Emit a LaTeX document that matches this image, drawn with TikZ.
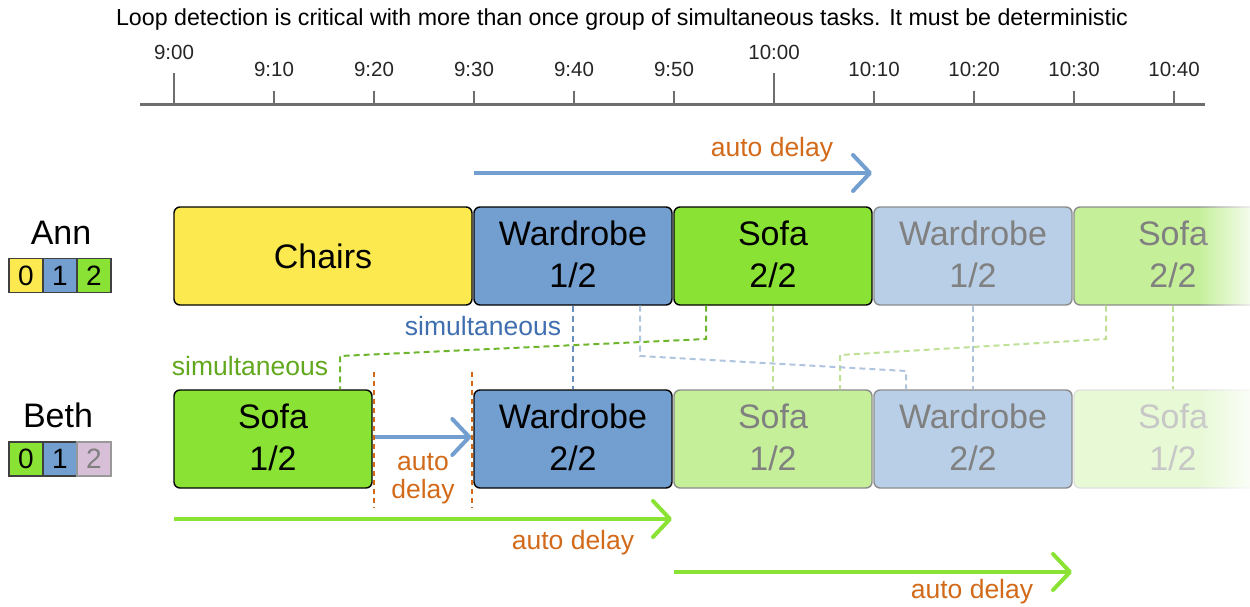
\documentclass[tikz,border=0pt]{standalone}
\usepackage{fontspec}
\setmainfont{Liberation Sans}
\usetikzlibrary{arrows.meta,fadings}
\tikzfading[name=fadeR, left color=transparent!100, right color=transparent!0]
\definecolor{cyellow}{HTML}{FCE94F}
\definecolor{cblue}{HTML}{729FCF}
\definecolor{cgreen}{HTML}{8AE234}
\definecolor{corange}{HTML}{D26A1A}
\definecolor{tblue}{HTML}{3F6FAF}
\definecolor{tgreen}{HTML}{62A81E}
\definecolor{axisgray}{HTML}{6E6E6E}
\definecolor{cthistle}{HTML}{D8BFD8}
\definecolor{dgreen}{HTML}{6DB62C}
\definecolor{dblue}{HTML}{6A8FBF}
\definecolor{dlgreen}{HTML}{BEE196}
\definecolor{dlblue}{HTML}{AFC4DE}
\begin{document}
\begin{tikzpicture}[x=1pt,y=-1pt,
  tbox/.style={draw=black, line width=1.4pt, rounded corners=6pt, minimum height=98pt, minimum width=198pt, inner sep=0pt, align=center, font=\fontsize{34}{42}\selectfont},
  fbox/.style={tbox, draw=black!45, text=black!50},
  ffbox/.style={tbox, draw=black!12, text=black!22},
  sbox/.style={draw=black!75, line width=1.2pt, minimum width=34pt, minimum height=34pt, inner sep=0pt, font=\fontsize{28}{30}\selectfont},
  who/.style={font=\fontsize{34}{40}\selectfont},
  lbl/.style={text=corange, font=\fontsize{26.5}{32}\selectfont, inner sep=0pt},
  tick/.style={font=\fontsize{20.5}{24}\selectfont, text=black!85, inner sep=0pt},
  axis/.style={draw=axisgray, line width=3pt},
  tickline/.style={draw=axisgray, line width=2.5pt},
  barrow/.style={draw=cblue, line width=4pt, -{Straight Barb[length=17pt,width=36pt,round]}},
  garrow/.style={draw=cgreen, line width=4pt, -{Straight Barb[length=17pt,width=36pt,round]}},
  odash/.style={draw=corange, line width=1.5pt, dash pattern=on 5pt off 4pt},
  conn/.style={line width=2pt, dash pattern=on 6pt off 4pt},
]
\useasboundingbox (0,0) rectangle (1250,607);
\clip (0,0) rectangle (1250,607);

% title
\node[font=\fontsize{23.2}{27}\selectfont, inner sep=0pt] (title) at (622,20) {Loop detection is critical with more than once group of simultaneous tasks. It must be deterministic};

% time axis
\draw[axis] (140,105) -- (1205,105);
\foreach \x/\t in {0/9:00,600/10:00}{
  \draw[tickline] (174+\x,73) -- (174+\x,105);
  \node[tick] at (174+\x,52) {\t};
}
\foreach \x/\t in {100/9:10,200/9:20,300/9:30,400/9:40,500/9:50,700/10:10,800/10:20,900/10:30,1000/10:40}{
  \draw[tickline] (174+\x,91) -- (174+\x,105);
  \node[tick] at (174+\x,69) {\t};
}

% people
\node[who] (ann) at (61,233) {Ann};
\node[sbox, fill=cyellow] (a0) at (26,275.5) {0};
\node[sbox, fill=cblue] (a1) at (60,275.5) {1};
\node[sbox, fill=cgreen] (a2) at (94,275.5) {2};
\node[who] (beth) at (58,415) {Beth};
\node[sbox, fill=cgreen] (b0) at (26,459) {0};
\node[sbox, fill=cblue] (b1) at (60,459) {1};
\node[sbox, fill=cthistle, text=black!50, draw=black!40] (b2) at (94,459) {2};

% connector bend points
\coordinate (g1) at (706,339);
\coordinate (g2) at (340,356);
\coordinate (h1) at (640,356);
\coordinate (h2) at (906,371);
\coordinate (k1) at (1106,339);
\coordinate (k2) at (840,355);

% Ann tasks
\node[tbox, fill=cyellow, minimum width=298pt] (chairs) at (323,256) {Chairs};
\node[tbox, fill=cblue] (annW1) at (573,256) {\raisebox{3pt}{Wardrobe}\\\raisebox{3pt}{1/2}};
\node[tbox, fill=cgreen] (annS2) at (773,256) {\raisebox{3pt}{Sofa}\\\raisebox{3pt}{2/2}};
\node[fbox, fill=cblue!50] (annW1f) at (973,256) {\raisebox{3pt}{Wardrobe}\\\raisebox{3pt}{1/2}};
\node[fbox, fill=cgreen!50] (annS2f) at (1173,256) {\raisebox{3pt}{Sofa}\\\raisebox{3pt}{2/2}};

% Beth tasks
\node[tbox, fill=cgreen] (bethS1) at (273,439) {\raisebox{3pt}{Sofa}\\\raisebox{3pt}{1/2}};
\node[tbox, fill=cblue] (bethW2) at (573,439) {\raisebox{3pt}{Wardrobe}\\\raisebox{3pt}{2/2}};
\node[fbox, fill=cgreen!50] (bethS1f) at (773,439) {\raisebox{3pt}{Sofa}\\\raisebox{3pt}{1/2}};
\node[fbox, fill=cblue!50] (bethW2f) at (973,439) {\raisebox{3pt}{Wardrobe}\\\raisebox{3pt}{2/2}};
\node[ffbox, fill=cgreen!20] (bethS1ff) at (1173,439) {\raisebox{3pt}{Sofa}\\\raisebox{3pt}{1/2}};

% simultaneous connectors
\draw[conn, draw=dlgreen] (annS2f.south -| k1) -- (k1) -- (k2) -- (k2 |- bethS1f.north);
\draw[conn, draw=dlgreen] (annS2.south) -- (bethS1f.north);
\draw[conn, draw=dlblue] (annW1f.south) -- (bethW2f.north);
\draw[conn, draw=dlgreen] (annS2f.south) -- (bethS1ff.north);
\draw[conn, draw=dlblue] (annW1.south -| h1) -- (h1) -- (h2) -- (h2 |- bethW2f.north);
\draw[conn, draw=dblue] (annW1.south) -- (bethW2.north);
\draw[conn, draw=dgreen] (annS2.south -| g1) -- (g1) -- (g2) -- (g2 |- bethS1.north);

% fade on the right
\fill[white, path fading=fadeR] (1198,195) rectangle (1262,500);

% labels
\node[lbl, text=tblue] (sim1) at (483,326) {simultaneous};
\node[lbl, text=tgreen] (sim2) at (250,366) {simultaneous};

% auto delay arrows
\coordinate (d1s) at (474,173);
\coordinate (d1e) at (872,173);
\draw[barrow] (d1s) -- (d1e);
\node[lbl] (lab1) at (772,150) {auto delay};

\coordinate (o1) at (374,372);
\coordinate (o2) at (472,372);
\draw[odash] (o1) -- (o1 |- 0,508);
\draw[odash] (o2) -- (o2 |- 0,508);
\draw[barrow] ([xshift=2pt]bethS1.east |- 0,437) -- ([xshift=-2pt]bethW2.west |- 0,437);
\node[lbl] (lab2) at (423,462) {auto};
\node[lbl] (lab3) at (423,492) {delay};

\coordinate (d2s) at (174,519);
\coordinate (d2e) at (672,519);
\draw[garrow] (d2s) -- (d2e);
\node[lbl] (lab4) at (573,543) {auto delay};

\coordinate (d3s) at (674,572);
\coordinate (d3e) at (1072,572);
\draw[garrow] (d3s) -- (d3e);
\node[lbl] (lab5) at (972,592) {auto delay};
\end{tikzpicture}
\end{document}
